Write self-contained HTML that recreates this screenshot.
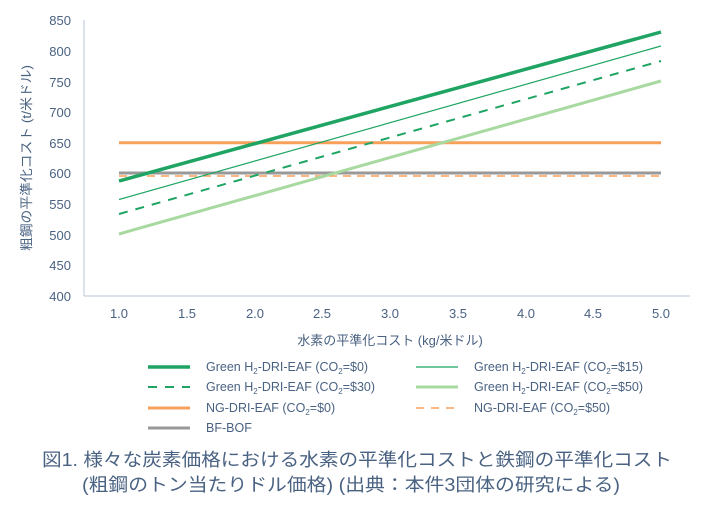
<!DOCTYPE html>
<html><head><meta charset="utf-8"><style>
body{margin:0;background:#fff;}
svg text{font-family:"Liberation Sans","Noto Sans CJK JP",sans-serif;fill:#4a6282;}
</style></head><body>
<svg width="717" height="508" xmlns="http://www.w3.org/2000/svg">
<rect width="717" height="508" fill="#fff"/>
<g font-size="13" text-anchor="end">
<text x="71" y="25">850</text><text x="71" y="56">800</text><text x="71" y="87">750</text><text x="71" y="117">700</text><text x="71" y="148">650</text><text x="71" y="178">600</text><text x="71" y="209">550</text><text x="71" y="240">500</text><text x="71" y="270">450</text><text x="71" y="301">400</text>
</g>
<g font-size="13" text-anchor="middle">
<text x="119" y="318">1.0</text><text x="187" y="318">1.5</text><text x="255" y="318">2.0</text><text x="322" y="318">2.5</text><text x="390" y="318">3.0</text><text x="458" y="318">3.5</text><text x="526" y="318">4.0</text><text x="593" y="318">4.5</text><text x="661" y="318">5.0</text>
</g>
<text x="390" y="345" font-size="13" text-anchor="middle">水素の平準化コスト (kg/米ドル)</text>
<text transform="translate(31,158) rotate(-90)" font-size="13" text-anchor="middle" textLength="186" lengthAdjust="spacingAndGlyphs">粗鋼の平準化コスト (t/米ドル)</text>
<line x1="84" y1="20" x2="84" y2="296" stroke="#b8c6d6" stroke-width="1"/>
<line x1="84" y1="296" x2="690" y2="296" stroke="#b8c6d6" stroke-width="1"/>
<line x1="119" y1="142.7" x2="661" y2="142.7" stroke="#f7a05a" stroke-width="3"/>
<line x1="119" y1="173" x2="661" y2="173" stroke="#999" stroke-width="3"/>
<line x1="119" y1="176" x2="661" y2="176" stroke="#f7a05a" stroke-width="1.5" stroke-dasharray="8,6"/>
<line x1="119" y1="234" x2="661" y2="81" stroke="#a8d9a0" stroke-width="3"/>
<line x1="119" y1="214" x2="661" y2="61" stroke="#1fa463" stroke-width="2" stroke-dasharray="9,8"/>
<line x1="119" y1="199.5" x2="661" y2="46" stroke="#1fa463" stroke-width="1.2"/>
<line x1="119" y1="181" x2="661" y2="32" stroke="#1fa463" stroke-width="3.5"/>
<g font-size="12.5">
<line x1="148" y1="367" x2="190" y2="367" stroke="#1fa463" stroke-width="3.5"/>
<text x="206" y="371">Green H<tspan font-size="8" dy="3">2</tspan><tspan dy="-3">-DRI-EAF (CO</tspan><tspan font-size="8" dy="3">2</tspan><tspan dy="-3">=$0)</tspan></text>
<line x1="416" y1="367" x2="458" y2="367" stroke="#1fa463" stroke-width="1.2"/>
<text x="474" y="371">Green H<tspan font-size="8" dy="3">2</tspan><tspan dy="-3">-DRI-EAF (CO</tspan><tspan font-size="8" dy="3">2</tspan><tspan dy="-3">=$15)</tspan></text>
<line x1="148" y1="387" x2="190" y2="387" stroke="#1fa463" stroke-width="2" stroke-dasharray="9,8"/>
<text x="206" y="391">Green H<tspan font-size="8" dy="3">2</tspan><tspan dy="-3">-DRI-EAF (CO</tspan><tspan font-size="8" dy="3">2</tspan><tspan dy="-3">=$30)</tspan></text>
<line x1="416" y1="387" x2="458" y2="387" stroke="#a8d9a0" stroke-width="3"/>
<text x="474" y="391">Green H<tspan font-size="8" dy="3">2</tspan><tspan dy="-3">-DRI-EAF (CO</tspan><tspan font-size="8" dy="3">2</tspan><tspan dy="-3">=$50)</tspan></text>
<line x1="148" y1="408" x2="190" y2="408" stroke="#f7a05a" stroke-width="3"/>
<text x="206" y="412">NG-DRI-EAF (CO<tspan font-size="8" dy="3">2</tspan><tspan dy="-3">=$0)</tspan></text>
<line x1="416" y1="408" x2="458" y2="408" stroke="#f7a05a" stroke-width="1.5" stroke-dasharray="8,7"/>
<text x="474" y="412">NG-DRI-EAF (CO<tspan font-size="8" dy="3">2</tspan><tspan dy="-3">=$50)</tspan></text>
<line x1="148" y1="428" x2="190" y2="428" stroke="#999" stroke-width="3"/>
<text x="206" y="432">BF-BOF</text>
</g>
<text x="42" y="466" font-size="18" textLength="630" lengthAdjust="spacingAndGlyphs">図1. 様々な炭素価格における水素の平準化コストと鉄鋼の平準化コスト</text>
<text x="82" y="491" font-size="18" textLength="538" lengthAdjust="spacingAndGlyphs">(粗鋼のトン当たりドル価格) (出典：本件3団体の研究による)</text>
</svg>
</body></html>
